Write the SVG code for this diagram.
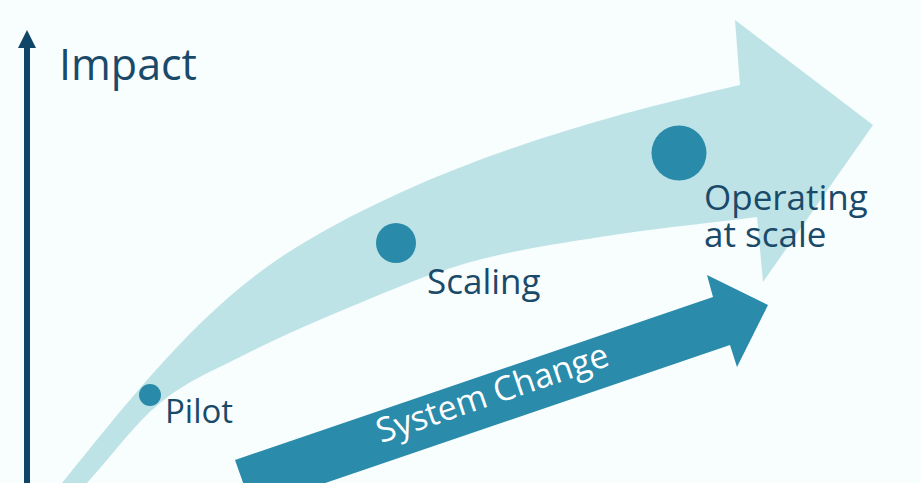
<svg xmlns="http://www.w3.org/2000/svg" width="921" height="483" viewBox="0 0 921 483">
  <defs>
    <style>
      .lbl { font-family: "Open Sans", "Liberation Sans", sans-serif; fill: #1a4a6a; }
      .dot { fill: #2a8aaa; }
      .band { fill: #bee3e6; }
    </style>
  </defs>
  <rect x="0" y="0" width="921" height="483" fill="#f8fdfd"/>

  <g id="band">
    <path class="band" d="M 62 483 C 132.6 396.1 204 302.6 300 245 C 433.7 164.8 588 119.8 740 85 L 735 20 L 873 125 L 763 282 L 757 217 C 704.7 223.7 648.3 229.3 600 237 C 551.7 244.7 509.8 250.8 467 263 C 424.2 275.2 380.8 294.3 343 310 C 305.2 325.7 270.5 341.5 240 357 C 209.5 372.5 185.5 382 160 403 C 134.5 424 111.3 456.3 87 483 Z"/>
  </g>

  <g id="axis">
    <line x1="27" y1="483" x2="27" y2="46" stroke="#0f4566" stroke-width="6"/>
    <polygon points="27,30 18,48 36,48" fill="#0f4566"/>
    <text class="lbl" x="59" y="80" font-size="43">Impact</text>
  </g>

  <g id="system-change">
    <polygon fill="#2a8bab" points="235,460 713,297 707,275 768,305 737,367 730,345 252,508"/>
    <text x="0" y="0" font-family="'Open Sans', 'Liberation Sans', sans-serif" font-size="34" fill="#ffffff" text-anchor="middle" transform="translate(496,404) rotate(-18.8)">System Change</text>
  </g>

  <g id="pilot">
    <circle class="dot" cx="150" cy="395" r="11"/>
    <text class="lbl" x="165" y="423" font-size="33">Pilot</text>
  </g>

  <g id="scaling">
    <circle class="dot" cx="396" cy="243" r="20"/>
    <text class="lbl" x="427" y="294" font-size="35">Scaling</text>
  </g>

  <g id="operating">
    <circle class="dot" cx="679" cy="153" r="27.5"/>
    <text class="lbl" x="704" y="210" font-size="35">Operating</text>
    <text class="lbl" x="704" y="247" font-size="35">at scale</text>
  </g>
</svg>
